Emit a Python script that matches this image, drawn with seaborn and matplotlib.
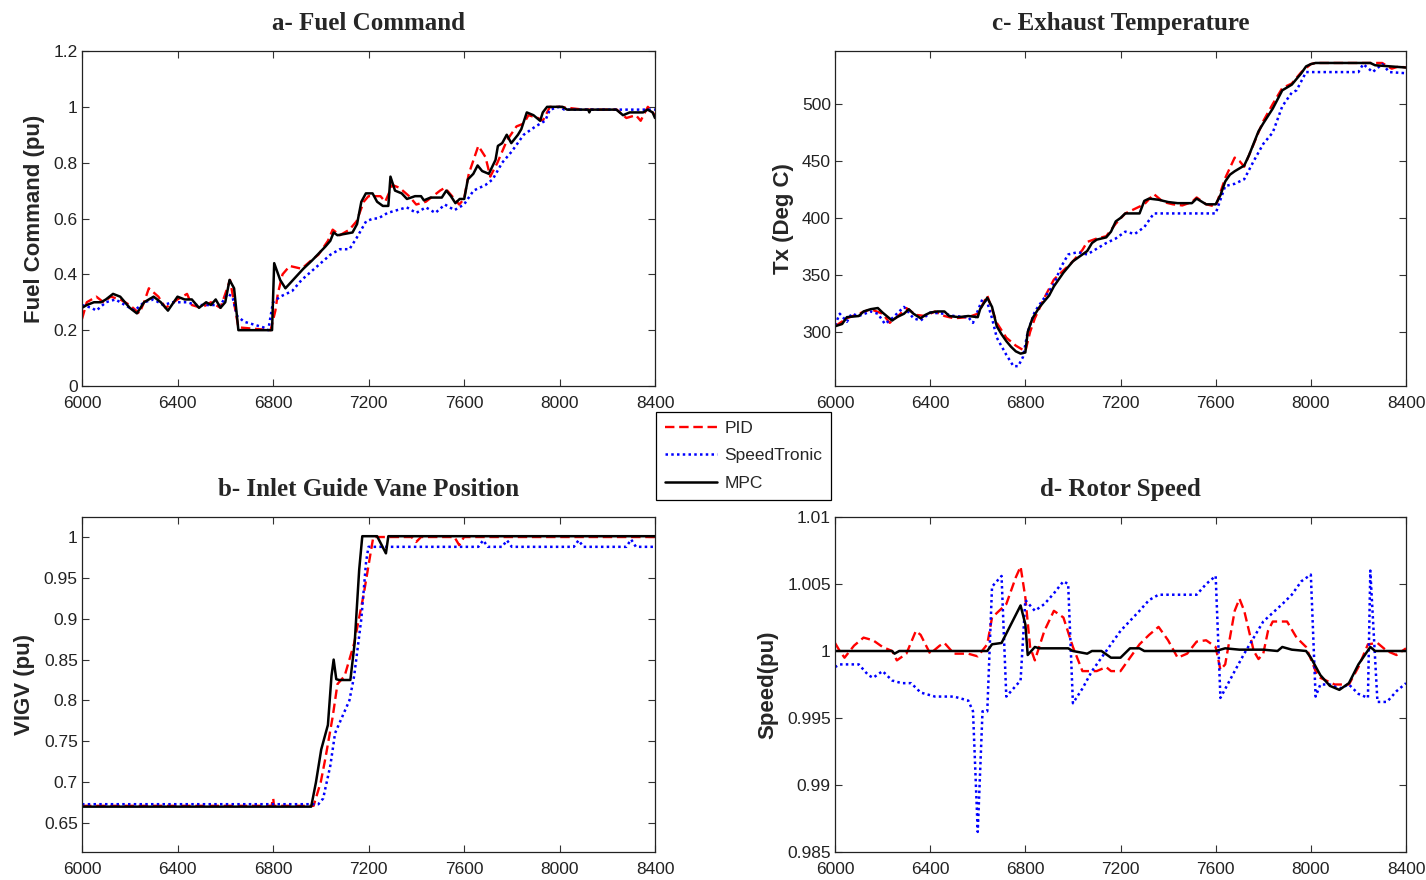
import matplotlib
matplotlib.use("Agg")
import matplotlib.pyplot as plt
import seaborn as sns
import pandas as pd
import numpy as np

# ---------------- data ----------------
# a- Fuel Command
fuel_mpc_t = [6000, 6020, 6050, 6080, 6100, 6130, 6160, 6200, 6230, 6260, 6300, 6330, 6360, 6400, 6430,
              6460, 6490, 6520, 6540, 6560, 6580, 6600, 6618, 6637, 6655, 6796, 6805, 6830, 6852, 6927,
              6964, 7020, 7040, 7054, 7070, 7133, 7152, 7170, 7189, 7217, 7236, 7260, 7283, 7292, 7311,
              7339, 7361, 7395, 7420, 7432, 7460, 7507, 7526, 7545, 7564, 7582, 7601, 7616, 7639, 7657,
              7676, 7704, 7732, 7742, 7760, 7779, 7798, 7826, 7840, 7863, 7891, 7919, 7930, 7948, 8013,
              8032, 8120, 8125, 8130, 8238, 8266, 8294, 8350, 8369, 8390, 8400]
fuel_mpc_v = [0.28, 0.29, 0.30, 0.30, 0.31, 0.33, 0.32, 0.28, 0.26, 0.30, 0.32, 0.30, 0.27, 0.32, 0.31,
              0.31, 0.28, 0.30, 0.29, 0.31, 0.28, 0.30, 0.38, 0.35, 0.20, 0.20, 0.44, 0.38, 0.35, 0.42,
              0.45, 0.50, 0.52, 0.55, 0.54, 0.55, 0.58, 0.66, 0.69, 0.69, 0.66, 0.645, 0.645, 0.75, 0.70,
              0.69, 0.67, 0.68, 0.68, 0.665, 0.675, 0.675, 0.70, 0.68, 0.655, 0.67, 0.67, 0.74, 0.76, 0.79,
              0.77, 0.76, 0.81, 0.86, 0.87, 0.90, 0.87, 0.90, 0.92, 0.98, 0.97, 0.95, 0.98, 1.00, 1.00,
              0.99, 0.99, 0.98, 0.99, 0.99, 0.97, 0.98, 0.98, 0.99, 0.98, 0.96]
fuel_pid_t = [6000, 6020, 6060, 6090, 6120, 6160, 6200, 6240, 6260, 6280, 6320, 6350, 6400, 6440, 6460,
              6500, 6540, 6580, 6620, 6655, 6790, 6810, 6820, 6840, 6870, 6920, 6960, 6990, 7030, 7050,
              7080, 7120, 7150, 7180, 7200, 7250, 7270, 7300, 7330, 7370, 7400, 7440, 7500, 7520, 7550,
              7580, 7600, 7620, 7660, 7690, 7710, 7740, 7780, 7820, 7850, 7870, 7910, 7930, 7960, 8000,
              8100, 8240, 8280, 8320, 8340, 8370, 8400]
fuel_pid_v = [0.24, 0.30, 0.32, 0.30, 0.32, 0.31, 0.29, 0.26, 0.30, 0.35, 0.32, 0.28, 0.31, 0.33, 0.29,
              0.28, 0.30, 0.28, 0.38, 0.21, 0.20, 0.27, 0.33, 0.40, 0.43, 0.42, 0.45, 0.47, 0.52, 0.56,
              0.54, 0.56, 0.59, 0.66, 0.68, 0.68, 0.66, 0.72, 0.71, 0.68, 0.65, 0.66, 0.70, 0.71, 0.68,
              0.65, 0.67, 0.76, 0.86, 0.82, 0.75, 0.80, 0.88, 0.93, 0.94, 0.97, 0.96, 0.95, 1.00, 1.00,
              0.99, 0.99, 0.96, 0.97, 0.95, 1.00, 0.97]
fuel_st_t = [6000, 6040, 6060, 6100, 6140, 6180, 6220, 6260, 6300, 6340, 6380, 6440, 6480, 6540, 6580,
             6610, 6630, 6650, 6680, 6720, 6760, 6780, 6800, 6830, 6880, 6920, 6960, 7000, 7040, 7080,
             7120, 7150, 7190, 7220, 7240, 7280, 7320, 7360, 7400, 7440, 7480, 7520, 7560, 7600, 7640,
             7690, 7720, 7760, 7800, 7850, 7900, 7940, 7960, 8000, 8020, 8400]
fuel_st_v = [0.29, 0.28, 0.27, 0.30, 0.31, 0.29, 0.27, 0.30, 0.31, 0.29, 0.30, 0.30, 0.29, 0.29, 0.29,
             0.33, 0.32, 0.25, 0.23, 0.22, 0.21, 0.20, 0.30, 0.32, 0.34, 0.38, 0.41, 0.44, 0.47, 0.49,
             0.49, 0.53, 0.59, 0.60, 0.60, 0.62, 0.63, 0.64, 0.62, 0.64, 0.62, 0.65, 0.63, 0.65, 0.70,
             0.72, 0.74, 0.80, 0.84, 0.90, 0.93, 0.95, 0.99, 1.00, 0.99, 0.99]

# c- Exhaust Temperature
tx_mpc_t = [6000, 6030, 6050, 6100, 6120, 6150, 6180, 6200, 6240, 6260, 6290, 6310, 6330, 6360, 6380,
            6400, 6430, 6460, 6480, 6520, 6560, 6600, 6610, 6640, 6660, 6680, 6700, 6720, 6740, 6760,
            6780, 6800, 6810, 6830, 6860, 6900, 6920, 6960, 7000, 7040, 7060, 7080, 7100, 7140, 7160,
            7180, 7200, 7220, 7280, 7300, 7320, 7360, 7400, 7440, 7500, 7520, 7560, 7600, 7620, 7640,
            7660, 7680, 7720, 7740, 7780, 7800, 7840, 7880, 7920, 7960, 7980, 8000, 8020, 8250, 8270,
            8400]
tx_mpc_v = [305, 307, 313, 314, 318, 320, 321, 317, 310, 313, 316, 320, 316, 312, 315,
            317, 318, 318, 314, 313, 314, 313, 320, 330, 322, 305, 298, 292, 287, 283,
            281, 282, 300, 312, 322, 332, 340, 352, 362, 368, 371, 378, 381, 383, 388,
            397, 400, 404, 404, 415, 417, 416, 414, 413, 413, 417, 412, 412, 420, 432,
            438, 441, 446, 455, 476, 483, 496, 512, 517, 527, 533, 535, 536, 536, 534,
            532]
tx_pid_t = [6000, 6050, 6100, 6150, 6200, 6230, 6260, 6300, 6340, 6380, 6420, 6460, 6500, 6560, 6600,
            6640, 6680, 6720, 6760, 6800, 6820, 6840, 6880, 6920, 6960, 7000, 7040, 7060, 7100, 7140,
            7180, 7220, 7260, 7300, 7340, 7380, 7420, 7460, 7500, 7520, 7560, 7600, 7640, 7680, 7700,
            7720, 7760, 7800, 7840, 7880, 7920, 7960, 8000, 8020, 8300, 8340, 8370, 8400]
tx_pid_v = [305, 312, 316, 320, 316, 308, 313, 321, 315, 314, 318, 314, 312, 313, 316,
            332, 308, 295, 288, 283, 300, 312, 330, 346, 354, 362, 372, 379, 382, 384,
            395, 404, 408, 412, 421, 414, 412, 411, 414, 418, 412, 410, 435, 453, 450,
            445, 465, 485, 500, 514, 518, 528, 535, 536, 536, 531, 533, 532]
tx_st_t = [6000, 6020, 6050, 6070, 6100, 6150, 6180, 6210, 6240, 6290, 6330, 6360, 6400, 6460, 6500,
           6560, 6580, 6620, 6640, 6660, 6680, 6720, 6750, 6770, 6790, 6810, 6840, 6880, 6920, 6950,
           6980, 7020, 7060, 7100, 7140, 7180, 7220, 7260, 7300, 7340, 7400, 7600, 7640, 7680, 7720,
           7760, 7800, 7840, 7880, 7920, 7940, 7980, 8000, 8200, 8220, 8260, 8300, 8330, 8400]
tx_st_v = [306, 316, 309, 316, 314, 318, 316, 307, 312, 322, 312, 310, 317, 316, 314,
           313, 308, 329, 326, 312, 295, 280, 270, 270, 278, 300, 318, 330, 342, 357,
           368, 370, 368, 373, 378, 382, 388, 386, 392, 404, 404, 404, 428, 430, 434,
           450, 465, 475, 498, 510, 512, 528, 528, 528, 535, 528, 535, 528, 527]

# b- Inlet Guide Vane Position
igv_mpc_t = [6000, 6960, 6980, 7002, 7030, 7045, 7054, 7065, 7077, 7124, 7142, 7161, 7174, 7236, 7273,
             7283, 8400]
igv_mpc_v = [0.670, 0.670, 0.700, 0.740, 0.770, 0.830, 0.850, 0.826, 0.825, 0.825, 0.870, 0.960, 1.001,
             1.001, 0.980, 1.001, 1.001]
igv_pid_t = [6000, 6795, 6798, 6801, 6804, 6970, 7000, 7020, 7050, 7070, 7100, 7140, 7180, 7220, 7250,
             7380, 7400, 7420, 7560, 7580, 7600, 8400]
igv_pid_v = [0.671, 0.671, 0.680, 0.680, 0.671, 0.671, 0.700, 0.730, 0.780, 0.820, 0.830, 0.870, 0.930,
             1.000, 1.000, 1.000, 0.994, 1.000, 1.000, 0.990, 1.000, 1.000]
igv_st_t = [6000, 6990, 7010, 7040, 7060, 7090, 7120, 7140, 7170, 7190, 7200, 7660, 7680, 7700, 7760,
            7780, 7800, 8060, 8080, 8100, 8280, 8300, 8320, 8400]
igv_st_v = [0.673, 0.673, 0.680, 0.720, 0.760, 0.780, 0.800, 0.830, 0.900, 0.970, 0.988, 0.988, 0.996,
            0.988, 0.988, 0.996, 0.988, 0.988, 0.996, 0.988, 0.988, 0.997, 0.988, 0.988]

# d- Rotor Speed
spd_mpc_t = [6000, 6240, 6250, 6270, 6640, 6660, 6700, 6740, 6780, 6800, 6810, 6840, 6860, 6980, 7000,
             7060, 7080, 7120, 7160, 7200, 7240, 7280, 7300, 7600, 7640, 7700, 7800, 7860, 7880, 7920,
             7980, 8000, 8040, 8080, 8120, 8160, 8200, 8250, 8270, 8400]
spd_mpc_v = [1.0000, 1.0000, 0.9998, 1.0000, 1.0000, 1.0005, 1.0006, 1.0020, 1.0034, 1.0020, 0.9997,
             1.0003, 1.0002, 1.0002, 1.0000, 0.9998, 1.0000, 1.0000, 0.9995, 0.9995, 1.0002, 1.0002,
             1.0000, 1.0000, 1.0002, 1.0001, 1.0001, 1.0000, 1.0003, 1.0001, 1.0000, 0.9995, 0.9982,
             0.9974, 0.9971, 0.9976, 0.9990, 1.0003, 1.0000, 1.0000]
spd_pid_t = [6000, 6020, 6040, 6080, 6120, 6160, 6200, 6240, 6260, 6300, 6340, 6360, 6400, 6440, 6460,
             6500, 6560, 6600, 6640, 6660, 6720, 6760, 6780, 6800, 6820, 6840, 6880, 6920, 6960, 7000,
             7040, 7100, 7140, 7160, 7200, 7240, 7280, 7320, 7360, 7400, 7440, 7480, 7520, 7560, 7600,
             7620, 7640, 7680, 7700, 7720, 7760, 7780, 7800, 7820, 7840, 7900, 7940, 7980, 8020, 8040,
             8100, 8160, 8200, 8240, 8280, 8320, 8360, 8400]
spd_pid_v = [1.0006, 1.0000, 0.9995, 1.0004, 1.0010, 1.0008, 1.0003, 1.0000, 0.9993, 0.9998, 1.0015,
             1.0012, 0.9998, 1.0004, 1.0006, 0.9998, 0.9998, 0.9996, 1.0005, 1.0025, 1.0035, 1.0055,
             1.0063, 1.0040, 1.0003, 0.9993, 1.0015, 1.0030, 1.0025, 1.0003, 0.9985, 0.9985, 0.9988,
             0.9985, 0.9985, 0.9995, 1.0005, 1.0012, 1.0018, 1.0008, 0.9995, 0.9998, 1.0007, 1.0008,
             1.0003, 0.9986, 0.9990, 1.0030, 1.0039, 1.0030, 1.0000, 0.9994, 0.9998, 1.0015, 1.0022,
             1.0022, 1.0010, 1.0003, 0.9985, 0.9980, 0.9975, 0.9975, 0.9988, 1.0005, 1.0006, 1.0000,
             0.9997, 1.0002]
spd_st_t = [6000, 6020, 6100, 6140, 6160, 6200, 6240, 6280, 6320, 6360, 6420, 6500, 6560, 6580, 6600,
            6620, 6640, 6660, 6700, 6720, 6740, 6780, 6800, 6840, 6880, 6920, 6960, 6980, 7000, 7040,
            7080, 7120, 7160, 7200, 7280, 7320, 7360, 7440, 7520, 7560, 7600, 7620, 7680, 7720, 7760,
            7800, 7880, 7920, 7960, 8000, 8020, 8040, 8080, 8120, 8160, 8200, 8240, 8250, 8280, 8320,
            8360, 8400]
spd_st_v = [0.9988, 0.9990, 0.9990, 0.9982, 0.9980, 0.9985, 0.9978, 0.9976, 0.9976, 0.9969, 0.9966,
            0.9966, 0.9963, 0.9955, 0.9865, 0.9955, 0.9955, 1.0048, 1.0056, 0.9966, 0.9970, 0.9978,
            1.0038, 1.0030, 1.0035, 1.0043, 1.0052, 1.0050, 0.9961, 0.9972, 0.9985, 0.9995, 1.0005,
            1.0015, 1.0030, 1.0038, 1.0042, 1.0042, 1.0042, 1.0050, 1.0056, 0.9965, 0.9985, 0.9998,
            1.0010, 1.0022, 1.0035, 1.0042, 1.0052, 1.0057, 0.9966, 0.9975, 0.9975, 0.9972, 0.9975,
            0.9968, 0.9965, 1.0060, 0.9962, 0.9962, 0.9970, 0.9976]

series_names = ["PID", "SpeedTronic", "MPC"]
x_ticks = [6000, 6400, 6800, 7200, 7600, 8000, 8400]

panels = [
    dict(title="a- Fuel Command", ylabel="Fuel Command (pu)",
         data=[(fuel_pid_t, fuel_pid_v), (fuel_st_t, fuel_st_v), (fuel_mpc_t, fuel_mpc_v)],
         ylim=(0, 1.2), yticks=[0, 0.2, 0.4, 0.6, 0.8, 1, 1.2],
         ylabels=["0", "0.2", "0.4", "0.6", "0.8", "1", "1.2"],
         pos=[82, 51, 655, 386]),
    dict(title="c- Exhaust Temperature", ylabel="Tx (Deg C)",
         data=[(tx_pid_t, tx_pid_v), (tx_st_t, tx_st_v), (tx_mpc_t, tx_mpc_v)],
         ylim=(252.6, 546.5), yticks=[300, 350, 400, 450, 500],
         ylabels=["300", "350", "400", "450", "500"],
         pos=[835, 51, 1406, 386]),
    dict(title="b- Inlet Guide Vane Position", ylabel="VIGV (pu)",
         data=[(igv_pid_t, igv_pid_v), (igv_st_t, igv_st_v), (igv_mpc_t, igv_mpc_v)],
         ylim=(0.6145, 1.0245), yticks=[0.65, 0.7, 0.75, 0.8, 0.85, 0.9, 0.95, 1],
         ylabels=["0.65", "0.7", "0.75", "0.8", "0.85", "0.9", "0.95", "1"],
         pos=[82, 517, 655, 852]),
    dict(title="d- Rotor Speed", ylabel="Speed(pu)",
         data=[(spd_pid_t, spd_pid_v), (spd_st_t, spd_st_v), (spd_mpc_t, spd_mpc_v)],
         ylim=(0.985, 1.01), yticks=[0.985, 0.99, 0.995, 1, 1.005, 1.01],
         ylabels=["0.985", "0.99", "0.995", "1", "1.005", "1.01"],
         pos=[835, 517, 1406, 852]),
]

# ---------------- style ----------------
sns.set_style("ticks")
plt.rcParams["font.family"] = ["Liberation Sans", "DejaVu Sans"]
plt.rcParams["xtick.direction"] = "in"
plt.rcParams["ytick.direction"] = "in"

colors = ["#ff0000", "#0000ff", "#000000"]
styles = [(0, (4, 2)), (0, (1, 1.3)), "-"]
widths = [1.7, 1.8, 1.8]

W, H = 1426, 880
fig = plt.figure(figsize=(W / 100, H / 100), dpi=100)

handles = None
for p in panels:
    x0, y0, x1, y1 = p["pos"]
    ax = fig.add_axes([x0 / W, 1 - y1 / H, (x1 - x0) / W, (y1 - y0) / H])
    for name, (t, v), c, ls, lw in zip(series_names, p["data"], colors, styles, widths):
        df = pd.DataFrame({"t": t, "v": v})
        sns.lineplot(data=df, x="t", y="v", ax=ax, color=c, linestyle=ls, linewidth=lw,
                     estimator=None, sort=False, label=name, legend=False)
    ax.set_xlim(6000, 8400)
    ax.set_ylim(*p["ylim"])
    ax.set_xticks(x_ticks)
    ax.set_xticklabels([str(x) for x in x_ticks], fontsize=12.5)
    ax.set_yticks(p["yticks"])
    ax.set_yticklabels(p["ylabels"], fontsize=12.5)
    ax.tick_params(axis="x", pad=7)
    ax.tick_params(axis="y", pad=3)
    ax.tick_params(axis="both", which="both", direction="in", top=True, right=True,
                   length=5, width=0.8, color="#333333", labelcolor="#222222")
    for s in ax.spines.values():
        s.set_visible(True)
        s.set_linewidth(0.9)
        s.set_color("#222222")
    ax.set_xlabel("")
    ax.set_ylabel(p["ylabel"], fontsize=16, fontweight="bold", labelpad=6)
    ax.set_title(p["title"], fontsize=18, fontweight="bold",
                 family=["Liberation Serif", "DejaVu Serif"], pad=15)
    handles = ax.get_lines()[:3]

leg = fig.legend(handles, series_names, loc="upper left",
                 bbox_to_anchor=(656 / W, 1 - 412 / H), borderaxespad=0,
                 frameon=True, fancybox=False,
                 edgecolor="black", framealpha=1, handlelength=3.0, handletextpad=0.45,
                 borderpad=0.5, labelspacing=0.72, prop={"size": 12.5})
leg.get_frame().set_linewidth(0.9)

fig.savefig("out.png", dpi=100, facecolor="white")
